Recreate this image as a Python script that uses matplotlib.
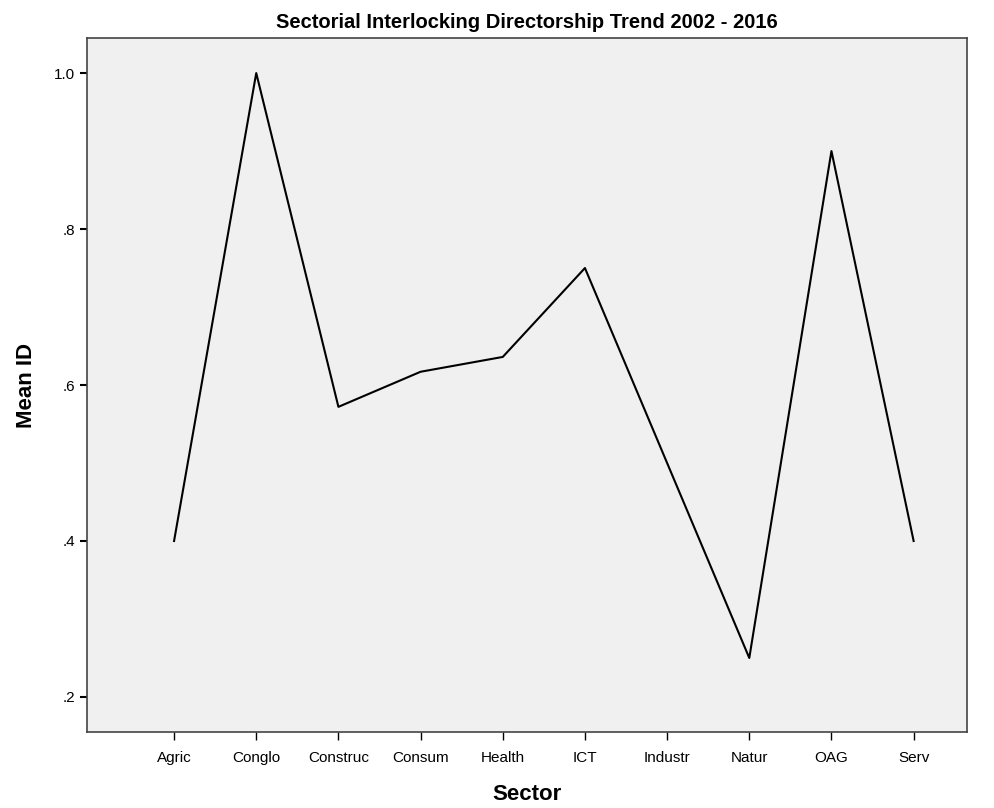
import matplotlib
matplotlib.use('Agg')
import matplotlib.pyplot as plt
from matplotlib.ticker import FixedLocator, FuncFormatter

# Data
sectors = ["Agric", "Conglo", "Construc", "Consum", "Health", "ICT", "Industr", "Natur", "OAG", "Serv"]
mean_id = [0.40, 1.00, 0.572, 0.617, 0.636, 0.75, 0.50, 0.25, 0.90, 0.40]

plt.rcParams['font.family'] = ['Liberation Sans', 'DejaVu Sans']

fig = plt.figure(figsize=(9.95, 8.08), dpi=100)
ax = fig.add_axes([0.0874, 0.094, 0.8845, 0.859])
ax.set_facecolor('#f0f0f0')

x = list(range(len(sectors)))
ax.plot(x, mean_id, color='black', linewidth=1.5)

ax.set_xlim(-1.06, 9.65)
ax.set_ylim(0.155, 1.045)
ax.set_xticks(x)
ax.set_xticklabels(sectors, fontsize=11)
ax.yaxis.set_major_locator(FixedLocator([0.2, 0.4, 0.6, 0.8, 1.0]))
ax.yaxis.set_major_formatter(FuncFormatter(lambda v, p: "1.0" if v >= 0.99 else f"{v:.1f}".lstrip("0")))
ax.tick_params(axis='y', labelsize=11, length=5, width=1.5, direction='out')
ax.tick_params(axis='x', length=6, width=1, direction='out', pad=8)

for s in ax.spines.values():
    s.set_color('#444444')
    s.set_linewidth(1.2)

ax.set_xlabel("Sector", fontsize=16, fontweight='bold', labelpad=13)
ax.set_ylabel("Mean ID", fontsize=16, fontweight='bold', labelpad=12)
ax.set_title("Sectorial Interlocking Directorship Trend 2002 - 2016", fontsize=14.5, fontweight='bold', pad=7)

fig.savefig("out.png", dpi=100, facecolor='white')
